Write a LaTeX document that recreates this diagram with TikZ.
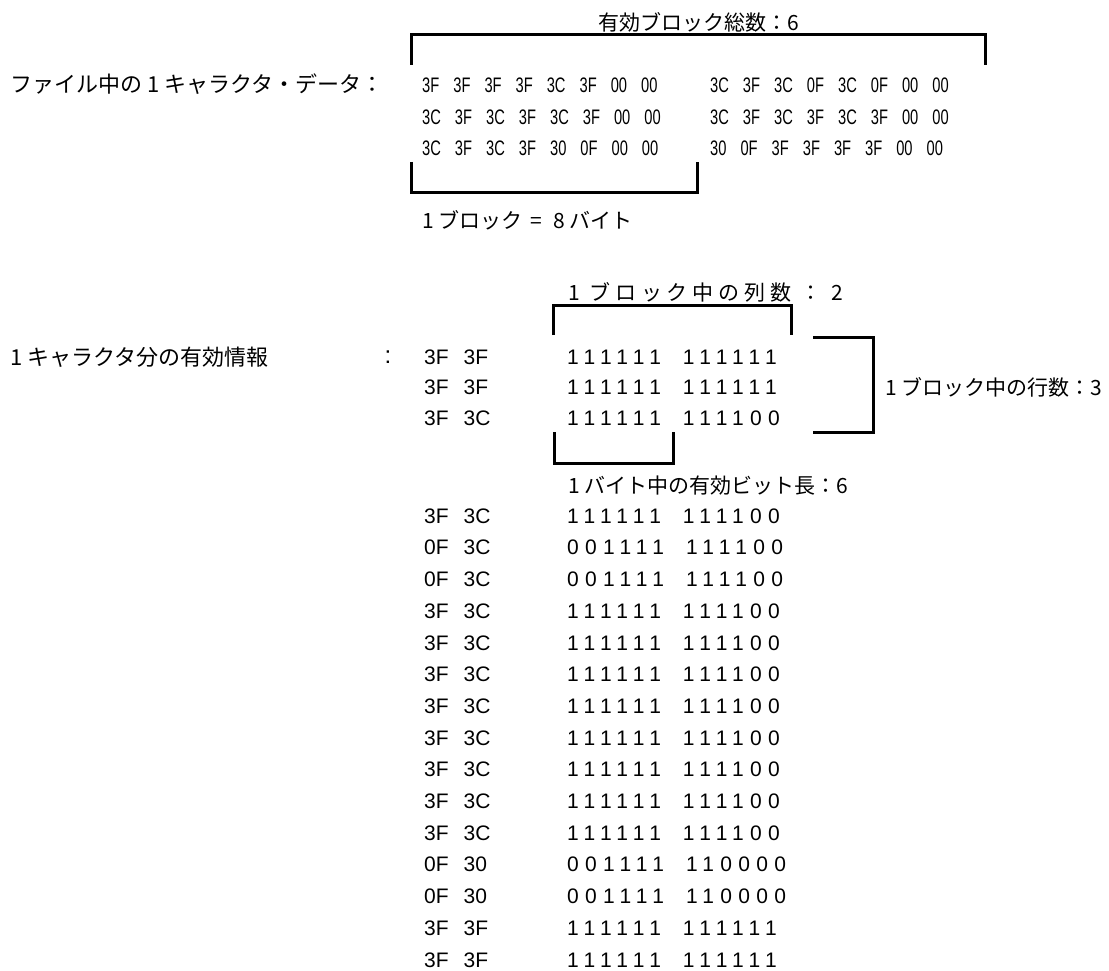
\documentclass[tikz,border=0pt]{standalone}
\usepackage{fontspec}
\newfontfamily\jpfont{Noto Sans CJK JP}
\newfontfamily\jpwidefont[LetterSpace=23]{Noto Sans CJK JP}
\newfontfamily\hexfont[FakeStretch=0.7]{Liberation Sans}
\newfontfamily\numfont{Liberation Sans}
\newfontfamily\bitfont[LetterSpace=30]{Liberation Sans}
\usepackage{tikz}
\newcommand{\pairgap}{\hspace{15pt}}
\newcommand{\hexgap}{\hspace{14pt}}
\newcommand{\bitgap}{\hspace{22pt}}

\begin{document}
\begin{tikzpicture}[x=1pt,y=-1pt,
  jp/.style={anchor=west,inner sep=0pt,font=\jpfont\fontsize{21pt}{25pt}\selectfont},
  jpbig/.style={anchor=west,inner sep=0pt,font=\jpfont\fontsize{22pt}{26pt}\selectfont},
  jpwide/.style={anchor=west,inner sep=0pt,font=\jpwidefont\fontsize{21pt}{25pt}\selectfont},
  hexrow/.style={anchor=west,inner sep=0pt,font=\hexfont\fontsize{21pt}{25pt}\selectfont},
  hexpair/.style={anchor=west,inner sep=0pt,font=\numfont\fontsize{21pt}{25pt}\selectfont},
  bits/.style={anchor=west,inner sep=0pt,font=\bitfont\fontsize{21pt}{25pt}\selectfont},
  brk/.style={line width=3pt}]
\useasboundingbox (0,0) rectangle (1109,971);

% TOP: raw data of one character in the file
\node[jp] (total) at (598,22) {有効ブロック総数：6};
\draw[brk] (411,65) |- (985,35) -- (985,65);
\node[jpbig] (filelbl) at (10,84) {ファイル中の 1 キャラクタ・データ：};
% first block
\node[hexrow] (hexA1) at (422,85)  {3F\hexgap 3F\hexgap 3F\hexgap 3F\hexgap 3C\hexgap 3F\hexgap 00\hexgap 00};
\node[hexrow] (hexA2) at (422,117) {3C\hexgap 3F\hexgap 3C\hexgap 3F\hexgap 3C\hexgap 3F\hexgap 00\hexgap 00};
\node[hexrow] (hexA3) at (422,148) {3C\hexgap 3F\hexgap 3C\hexgap 3F\hexgap 30\hexgap 0F\hexgap 00\hexgap 00};
% second block
\node[hexrow] (hexB1) at (710,85)  {3C\hexgap 3F\hexgap 3C\hexgap 0F\hexgap 3C\hexgap 0F\hexgap 00\hexgap 00};
\node[hexrow] (hexB2) at (710,117) {3C\hexgap 3F\hexgap 3C\hexgap 3F\hexgap 3C\hexgap 3F\hexgap 00\hexgap 00};
\node[hexrow] (hexB3) at (710,148) {30\hexgap 0F\hexgap 3F\hexgap 3F\hexgap 3F\hexgap 3F\hexgap 00\hexgap 00};
\draw[brk] (411,162) |- (697,193) -- (697,162);
\node[jp] (blocklbl) at (422,220) {1 ブロック\hspace{3pt} = \hspace{7pt}8 バイト};

% BOTTOM: valid information of one character
\node[jpwide] (collbl) at (568,292) {1 ブロック中の列数 ： 2};
\draw[brk] (553,335) |- (791,305) -- (791,335);
\draw[brk] (813,337) -| (873,432) -- (813,432);
\node[jp] (rowlbl) at (885,387) {1 ブロック中の行数：3};
\node[jpbig] (infolbl) at (10,357) {1 キャラクタ分の有効情報};
\node[hexpair,anchor=center,font=\numfont\fontsize{24pt}{28pt}\selectfont] (colon) at (388,357) {:};
% first block rows
\node[hexpair] (h1) at (424,357) {3F\pairgap 3F};  \node[bits] (b1) at (567,357) {111111\bitgap 111111};
\node[hexpair] (h2) at (424,387) {3F\pairgap 3F};  \node[bits] (b2) at (567,387) {111111\bitgap 111111};
\node[hexpair] (h3) at (424,418) {3F\pairgap 3C};  \node[bits] (b3) at (567,418) {111111\bitgap 111100};
\draw[brk] (554,432) |- (673,463) -- (673,432);
\node[jp] (bitlbl) at (568,486) {1 バイト中の有効ビット長：6};
% remaining rows
\node[hexpair] (h4)  at (424,516.0) {3F\pairgap 3C};  \node[bits] (b4)  at (567,516.0) {111111\bitgap 111100};
\node[hexpair] (h5)  at (424,547.7) {0F\pairgap 3C};  \node[bits] (b5)  at (567,547.7) {001111\bitgap 111100};
\node[hexpair] (h6)  at (424,579.4) {0F\pairgap 3C};  \node[bits] (b6)  at (567,579.4) {001111\bitgap 111100};
\node[hexpair] (h7)  at (424,611.1) {3F\pairgap 3C};  \node[bits] (b7)  at (567,611.1) {111111\bitgap 111100};
\node[hexpair] (h8)  at (424,642.8) {3F\pairgap 3C};  \node[bits] (b8)  at (567,642.8) {111111\bitgap 111100};
\node[hexpair] (h9)  at (424,674.5) {3F\pairgap 3C};  \node[bits] (b9)  at (567,674.5) {111111\bitgap 111100};
\node[hexpair] (h10) at (424,706.2) {3F\pairgap 3C};  \node[bits] (b10) at (567,706.2) {111111\bitgap 111100};
\node[hexpair] (h11) at (424,737.9) {3F\pairgap 3C};  \node[bits] (b11) at (567,737.9) {111111\bitgap 111100};
\node[hexpair] (h12) at (424,769.6) {3F\pairgap 3C};  \node[bits] (b12) at (567,769.6) {111111\bitgap 111100};
\node[hexpair] (h13) at (424,801.3) {3F\pairgap 3C};  \node[bits] (b13) at (567,801.3) {111111\bitgap 111100};
\node[hexpair] (h14) at (424,833.0) {3F\pairgap 3C};  \node[bits] (b14) at (567,833.0) {111111\bitgap 111100};
\node[hexpair] (h15) at (424,864.7) {0F\pairgap 30};  \node[bits] (b15) at (567,864.7) {001111\bitgap 110000};
\node[hexpair] (h16) at (424,896.4) {0F\pairgap 30};  \node[bits] (b16) at (567,896.4) {001111\bitgap 110000};
\node[hexpair] (h17) at (424,928.1) {3F\pairgap 3F};  \node[bits] (b17) at (567,928.1) {111111\bitgap 111111};
\node[hexpair] (h18) at (424,959.8) {3F\pairgap 3F};  \node[bits] (b18) at (567,959.8) {111111\bitgap 111111};

\end{tikzpicture}
\end{document}
